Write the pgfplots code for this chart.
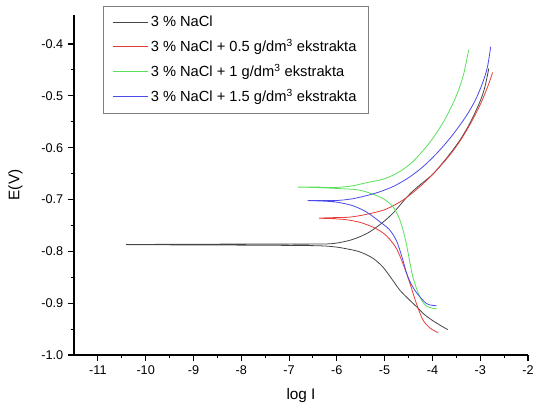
\documentclass[border=0pt]{standalone}
\usepackage{pgfplots}
\pgfplotsset{compat=1.18}
\usepackage{fontspec}
\setmainfont{Liberation Sans}

\definecolor{cnacl}{RGB}{70,70,70}
\definecolor{cred}{RGB}{230,60,60}
\definecolor{cgreen}{RGB}{90,225,90}
\definecolor{cblue}{RGB}{75,75,235}

\begin{document}
\begin{tikzpicture}
\useasboundingbox (-55.5pt,-39pt) rectangle (345.75pt,266.25pt);
\begin{axis}[
at={(0,0)}, anchor=south west,
scale only axis,
width=340.5pt, height=255pt,
xmin=-11.5, xmax=-2,
ymin=-1.0, ymax=-0.344,
axis x line*=bottom,
axis y line*=left,
axis line style={line width=0.8pt},
tick align=outside,
major tick length=4.5pt,
minor tick length=2.5pt,
every tick/.style={black, line width=0.8pt},
xtick={-11,-10,-9,-8,-7,-6,-5,-4,-3,-2},
ytick={-1,-0.9,-0.8,-0.7,-0.6,-0.5,-0.4},
minor x tick num=1,
minor y tick num=1,
/pgf/number format/assume math mode=true,
yticklabel style={/pgf/number format/fixed, /pgf/number format/fixed zerofill, /pgf/number format/precision=1},
tick label style={font=\fontsize{9.5}{11}\selectfont},
xlabel={log I},
ylabel={E(V)},
label style={font=\fontsize{11.5}{13}\selectfont},
xlabel style={at={(axis description cs:0.5,-0.12)}, anchor=center},
ylabel style={at={(axis description cs:-0.129,0.5)}, anchor=center},
legend style={at={(axis description cs:0.064,1.026)}, anchor=north west,
  draw=gray, font=\fontsize{11}{13}\selectfont,
  inner xsep=7pt, inner ysep=5pt, row sep=4pt},
legend cell align=left,
legend image code/.code={\draw[#1] plot coordinates {(0pt,0pt) (26pt,0pt)};},
]
% 3 % NaCl
\addplot[draw=cnacl, line width=0.6pt, smooth, tension=0.5] coordinates {
(-3.68,-0.951) (-3.85,-0.942) (-4.02,-0.932) (-4.18,-0.921) (-4.33,-0.907)
(-4.50,-0.892) (-4.68,-0.875) (-4.86,-0.852) (-5.04,-0.830) (-5.25,-0.813)
(-5.52,-0.801) (-5.80,-0.795) (-6.08,-0.791) (-6.5,-0.789) (-8,-0.788)
(-10.41,-0.787)
(-8,-0.786) (-6.5,-0.786) (-6.08,-0.785) (-5.70,-0.778) (-5.38,-0.766)
(-5.15,-0.752) (-4.96,-0.738) (-4.80,-0.724) (-4.68,-0.711) (-4.47,-0.689)
(-4.25,-0.671) (-4.00,-0.652) (-3.80,-0.631) (-3.60,-0.608) (-3.40,-0.582)
(-3.20,-0.550) (-3.00,-0.510) (-2.90,-0.482) (-2.82,-0.447)
};
\addlegendentry{3 \% NaCl}
% + 0.5 g/dm3
\addplot[draw=cred, line width=0.6pt, smooth, tension=0.5] coordinates {
(-3.88,-0.957) (-4.05,-0.948) (-4.20,-0.932) (-4.33,-0.902) (-4.47,-0.862)
(-4.62,-0.823) (-4.75,-0.795) (-4.90,-0.776) (-5.04,-0.764) (-5.25,-0.753)
(-5.52,-0.744) (-5.80,-0.739) (-6.08,-0.737) (-6.37,-0.736)
(-6.08,-0.735) (-5.73,-0.734) (-5.40,-0.729) (-5.04,-0.721) (-4.80,-0.711)
(-4.60,-0.700) (-4.40,-0.686) (-4.20,-0.670) (-4.00,-0.652) (-3.80,-0.632)
(-3.60,-0.610) (-3.40,-0.584) (-3.20,-0.553) (-3.00,-0.517) (-2.85,-0.484)
(-2.74,-0.455)
};
\addlegendentry{3 \% NaCl + 0.5 g/dm\textsuperscript{3} ekstrakta}
% + 1 g/dm3
\addplot[draw=cgreen, line width=0.6pt, smooth, tension=0.5] coordinates {
(-3.91,-0.911) (-4.12,-0.906) (-4.26,-0.888) (-4.41,-0.849) (-4.54,-0.788)
(-4.62,-0.757) (-4.70,-0.735) (-4.80,-0.717) (-4.90,-0.707) (-5.10,-0.695)
(-5.52,-0.682) (-5.94,-0.679) (-6.40,-0.677) (-6.82,-0.676)
(-6.40,-0.676) (-6.08,-0.677) (-5.70,-0.674) (-5.40,-0.668) (-5.04,-0.661)
(-4.80,-0.652) (-4.60,-0.641) (-4.40,-0.626) (-4.20,-0.606) (-4.00,-0.583)
(-3.80,-0.555) (-3.64,-0.528) (-3.50,-0.500) (-3.36,-0.463) (-3.24,-0.411)
};
\addlegendentry{3 \% NaCl + 1 g/dm\textsuperscript{3} ekstrakta}
% + 1.5 g/dm3
\addplot[draw=cblue, line width=0.6pt, smooth, tension=0.5] coordinates {
(-3.91,-0.905) (-4.12,-0.901) (-4.33,-0.880) (-4.45,-0.862) (-4.54,-0.842)
(-4.64,-0.810) (-4.75,-0.780) (-4.90,-0.758) (-5.10,-0.743) (-5.30,-0.729)
(-5.46,-0.720) (-5.70,-0.711) (-6.01,-0.705) (-6.30,-0.703) (-6.61,-0.702)
(-6.30,-0.702) (-6.01,-0.702) (-5.70,-0.699) (-5.40,-0.693) (-5.10,-0.685)
(-4.80,-0.674) (-4.50,-0.658) (-4.20,-0.637) (-3.90,-0.610) (-3.60,-0.578)
(-3.30,-0.540) (-3.10,-0.508) (-2.95,-0.475) (-2.85,-0.445) (-2.78,-0.405)
};
\addlegendentry{3 \% NaCl + 1.5 g/dm\textsuperscript{3} ekstrakta}
\end{axis}
\end{tikzpicture}
\end{document}
